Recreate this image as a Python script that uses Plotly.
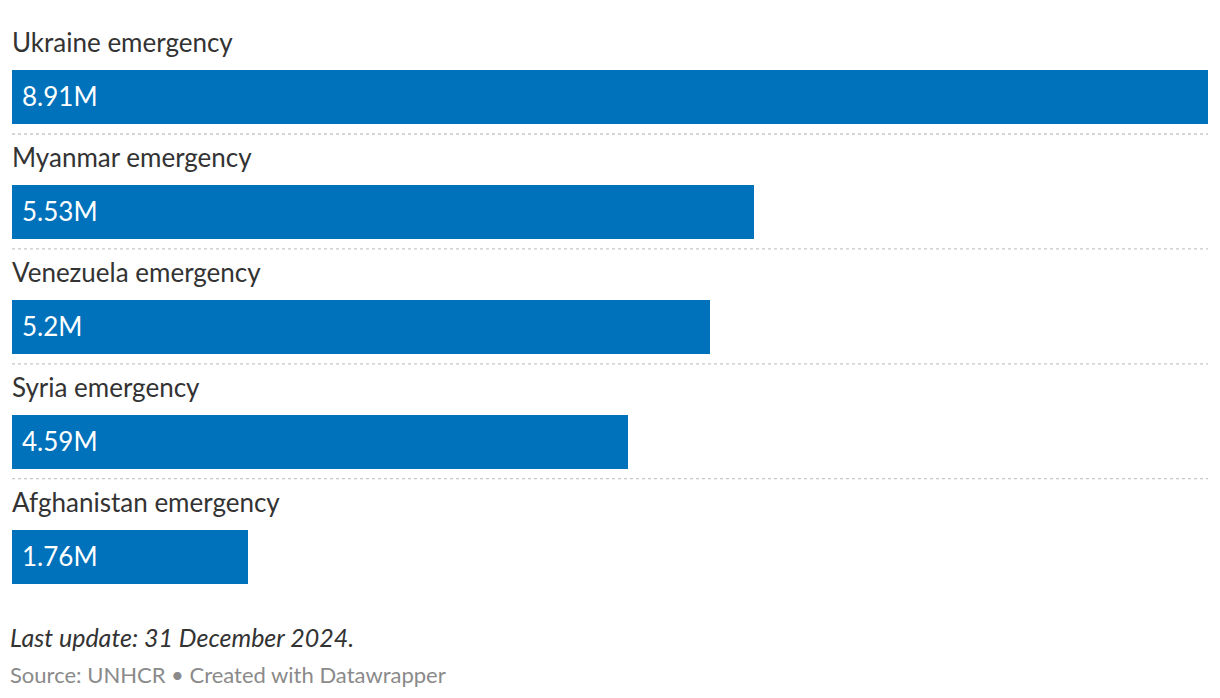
import plotly.graph_objects as go

categories = ["Ukraine emergency", "Myanmar emergency", "Venezuela emergency",
              "Syria emergency", "Afghanistan emergency"]
values = [8.91, 5.53, 5.2, 4.59, 1.76]
value_labels = ["8.91M", "5.53M", "5.2M", "4.59M", "1.76M"]

# page body has an 8px margin; figure sized to fit inside the window
OFF = 8
W, H = 1220 - 2 * OFF, 698 - 2 * OFF
top, bottom = 20, 615          # desired plot area (window px)
left, right = 12, 1208
pitch = 114.9
plot_h = bottom - top
first_center = 97
r_top = -(first_center - top) / pitch
r_bot = r_top + plot_h / pitch

ypos = list(range(len(categories)))
BLUE = "#0072BC"
FONT = "Lato"

fig = go.Figure(go.Bar(
    x=values, y=ypos, orientation="h",
    marker=dict(color=BLUE, line=dict(width=0)),
    width=54 / pitch, hoverinfo="skip",
))

annotations = []
for i, (c, v, lab) in enumerate(zip(categories, values, value_labels)):
    annotations.append(dict(x=0, y=i, xref="x", yref="y", text=c, showarrow=False,
                            xanchor="left", yanchor="middle", yshift=55, xshift=-2,
                            font=dict(family=FONT, size=26, color="#333333")))
    annotations.append(dict(x=0, y=i, xref="x", yref="y", text=lab, showarrow=False,
                            xanchor="left", yanchor="middle", xshift=8, yshift=1,
                            font=dict(family=FONT, size=26, color="#ffffff")))

annotations.append(dict(x=0, y=(bottom - 637) / plot_h, xref="paper", yref="paper",
                        text="<i>Last update: 31 December 2024.</i>", showarrow=False,
                        xanchor="left", yanchor="middle", xshift=-4,
                        font=dict(family=FONT, size=25, color="#333333")))
annotations.append(dict(x=0, y=(bottom - 674) / plot_h, xref="paper", yref="paper",
                        text="Source: UNHCR • Created with Datawrapper", showarrow=False,
                        xanchor="left", yanchor="middle", xshift=-4,
                        font=dict(family=FONT, size=22, color="#8a8a8a")))

shapes = []
for i in range(len(categories) - 1):
    yy = i + 37 / pitch
    shapes.append(dict(type="line", xref="paper", yref="y", x0=0, x1=1, y0=yy, y1=yy,
                       line=dict(color="#c8c8c8", width=1.3, dash="dot")))

fig.update_layout(
    width=W, height=H,
    margin=dict(l=left - OFF, r=W + OFF - right, t=top - OFF, b=H + OFF - bottom),
    paper_bgcolor="white", plot_bgcolor="white",
    xaxis=dict(range=[0, max(values)], visible=False, fixedrange=True),
    yaxis=dict(range=[r_bot, r_top], visible=False, fixedrange=True),
    showlegend=False, annotations=annotations, shapes=shapes,
    bargap=0,
)

fig.write_html("out.html", config={"displayModeBar": False})
